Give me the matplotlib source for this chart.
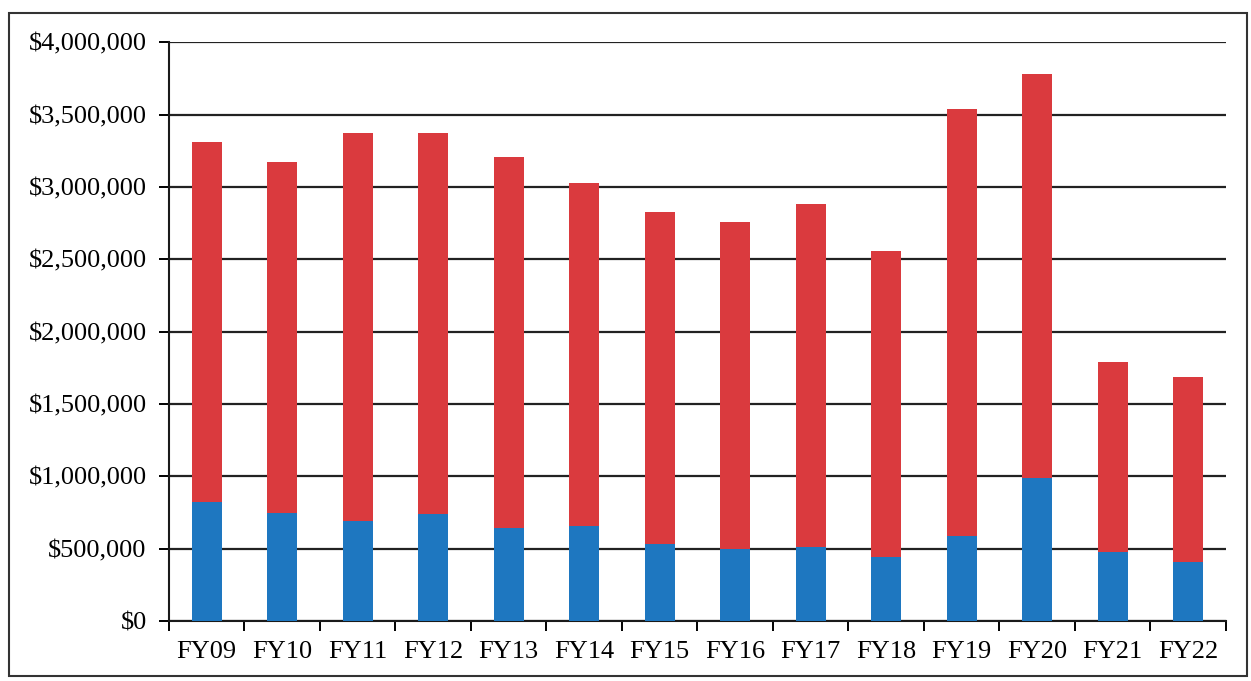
import numpy as np
import matplotlib
matplotlib.use("Agg")
from matplotlib import pyplot as plt
from matplotlib.patches import Rectangle
from matplotlib.ticker import FuncFormatter

# values
years = ["FY09", "FY10", "FY11", "FY12", "FY13", "FY14", "FY15",
         "FY16", "FY17", "FY18", "FY19", "FY20", "FY21", "FY22"]
totals = [3310000, 3170000, 3370000, 3370000, 3210000, 3030000, 2830000,
          2760000, 2880000, 2560000, 3540000, 3780000, 1790000, 1690000]
blue_part = [820000, 750000, 690000, 740000, 640000, 660000, 530000,
             500000, 510000, 440000, 590000, 990000, 480000, 410000]
red_part = [t - b for t, b in zip(totals, blue_part)]

plt.rcParams['font.family'] = ['Liberation Serif', 'DejaVu Serif']

fig = plt.figure(figsize=(12.51, 6.81), dpi=100)
ax = fig.add_axes([0.135, 0.088, 0.845, 0.85])

x = np.arange(len(years))
ax.bar(x, blue_part, width=0.4, color='#1E77C0', zorder=3)
ax.bar(x, red_part, width=0.4, bottom=blue_part, color='#DA3A3E', zorder=3)

ax.set_xlim(-0.5, len(years) - 0.5)
ax.set_ylim(0, 4000000)
ax.set_yticks(np.arange(0, 4000001, 500000))
ax.yaxis.set_major_formatter(FuncFormatter(lambda v, p: "${:,.0f}".format(v)))
ax.yaxis.grid(True, color='#222222', linewidth=1.6, zorder=1)

# category labels centered, tick marks between categories
ax.set_xticks(x)
ax.set_xticklabels(years)
ax.set_xticks(np.arange(-0.5, len(years)), minor=True)
ax.tick_params(axis='x', which='major', length=0, pad=14, labelsize=19)
ax.tick_params(axis='x', which='minor', length=7, width=1.4, direction='out')
ax.tick_params(axis='y', length=7, width=1.4, pad=9, labelsize=19)

for s in ['top', 'right']:
    ax.spines[s].set_visible(False)
for s in ['left', 'bottom']:
    ax.spines[s].set_linewidth(1.5)
    ax.spines[s].set_color('#1a1a1a')

# outer frame of the scanned figure
fig.patches.append(Rectangle((0.007, 0.008), 0.99, 0.973, transform=fig.transFigure,
                             fill=False, edgecolor='#333333', linewidth=1.5))

fig.savefig("out.png", dpi=100)
